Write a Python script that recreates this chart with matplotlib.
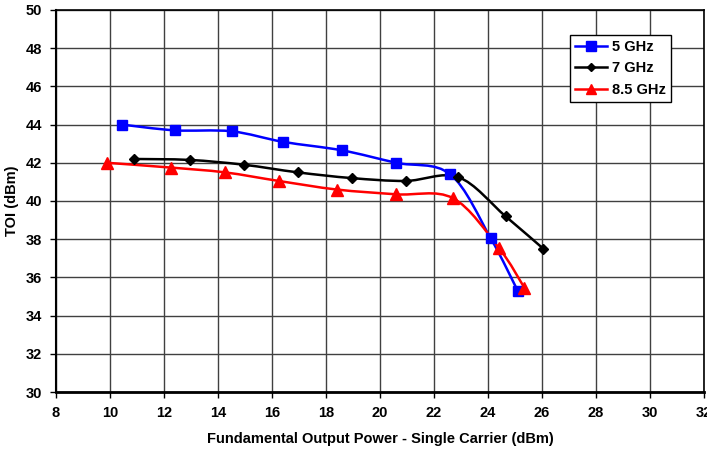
import matplotlib.pyplot as plt
from matplotlib.path import Path
from matplotlib.patches import PathPatch
from matplotlib.lines import Line2D

plt.rcParams["font.family"] = ["Liberation Sans", "DejaVu Sans"]
plt.rcParams["font.weight"] = "bold"

series_names = ["5 GHz", "7 GHz", "8.5 GHz"]
colors = ["#0000FF", "#000000", "#FF0000"]
markers = ["s", "D", "^"]
marker_sizes = [7.5, 5.5, 8]

x_5ghz = [10.45, 12.4, 14.5, 16.4, 18.6, 20.6, 22.6, 24.1, 25.1]
y_5ghz = [44.0, 43.7, 43.65, 43.1, 42.65, 42.0, 41.4, 38.05, 35.3]
x_7ghz = [10.9, 12.95, 14.95, 16.95, 18.95, 20.95, 22.9, 24.65, 26.05]
y_7ghz = [42.2, 42.15, 41.9, 41.5, 41.2, 41.05, 41.25, 39.2, 37.5]
x_85ghz = [9.9, 12.25, 14.25, 16.25, 18.4, 20.6, 22.7, 24.4, 25.35]
y_85ghz = [42.0, 41.75, 41.5, 41.05, 40.6, 40.35, 40.15, 37.55, 35.45]

xs = [x_5ghz, x_7ghz, x_85ghz]
ys = [y_5ghz, y_7ghz, y_85ghz]


def smooth_path(x, y, t=1 / 6):
    # Bezier path through the points, like Excel's "smoothed line"
    verts = [(x[0], y[0])]
    codes = [Path.MOVETO]
    n = len(x)
    for i in range(n - 1):
        x0, y0 = (x[i - 1], y[i - 1]) if i > 0 else (x[i], y[i])
        x3, y3 = (x[i + 2], y[i + 2]) if i + 2 < n else (x[i + 1], y[i + 1])
        c1 = (x[i] + (x[i + 1] - x0) * t, y[i] + (y[i + 1] - y0) * t)
        c2 = (x[i + 1] - (x3 - x[i]) * t, y[i + 1] - (y3 - y[i]) * t)
        verts += [c1, c2, (x[i + 1], y[i + 1])]
        codes += [Path.CURVE4] * 3
    return Path(verts, codes)


fig = plt.figure(figsize=(7.07, 4.53), dpi=100)
ax = fig.add_axes([56 / 707, 1 - 392 / 453, 648 / 707, 382 / 453])

handles = []
for x, y, c, m, ms, name in zip(xs, ys, colors, markers, marker_sizes, series_names):
    ax.add_patch(PathPatch(smooth_path(x, y), fill=False, edgecolor=c, lw=1.8, zorder=3))
    ax.plot(x, y, linestyle="none", marker=m, markersize=ms, color=c, zorder=4)
    handles.append(Line2D([], [], color=c, lw=1.8, marker=m, markersize=ms - 1, label=name))

ax.set_xlim(8, 32)
ax.set_ylim(30, 50)
ax.set_xticks(range(8, 33, 2))
ax.set_yticks(range(30, 51, 2))
ax.grid(True, color="#404040", lw=1)
ax.set_axisbelow(True)
for s in ax.spines.values():
    s.set_linewidth(1.2)
ax.spines["bottom"].set_linewidth(2)
ax.spines["left"].set_linewidth(1.5)
ax.tick_params(labelsize=10.5, length=4, width=1, pad=6)

ax.set_xlabel("Fundamental Output Power - Single Carrier (dBm)", fontsize=10.5, fontweight="bold", labelpad=9)
ax.set_ylabel("TOI (dBm)", fontsize=10.5, fontweight="bold", labelpad=5)

leg = ax.legend(handles=handles, loc="upper left", bbox_to_anchor=(514 / 648, 1 - 25 / 382),
                borderaxespad=0, fontsize=10.5, frameon=True, fancybox=False, edgecolor="black",
                handlelength=2.2, borderpad=0.35, labelspacing=0.5, handletextpad=0.3)
leg.get_frame().set_linewidth(1)
leg.get_frame().set_alpha(1)

fig.savefig("out.png", dpi=100)
